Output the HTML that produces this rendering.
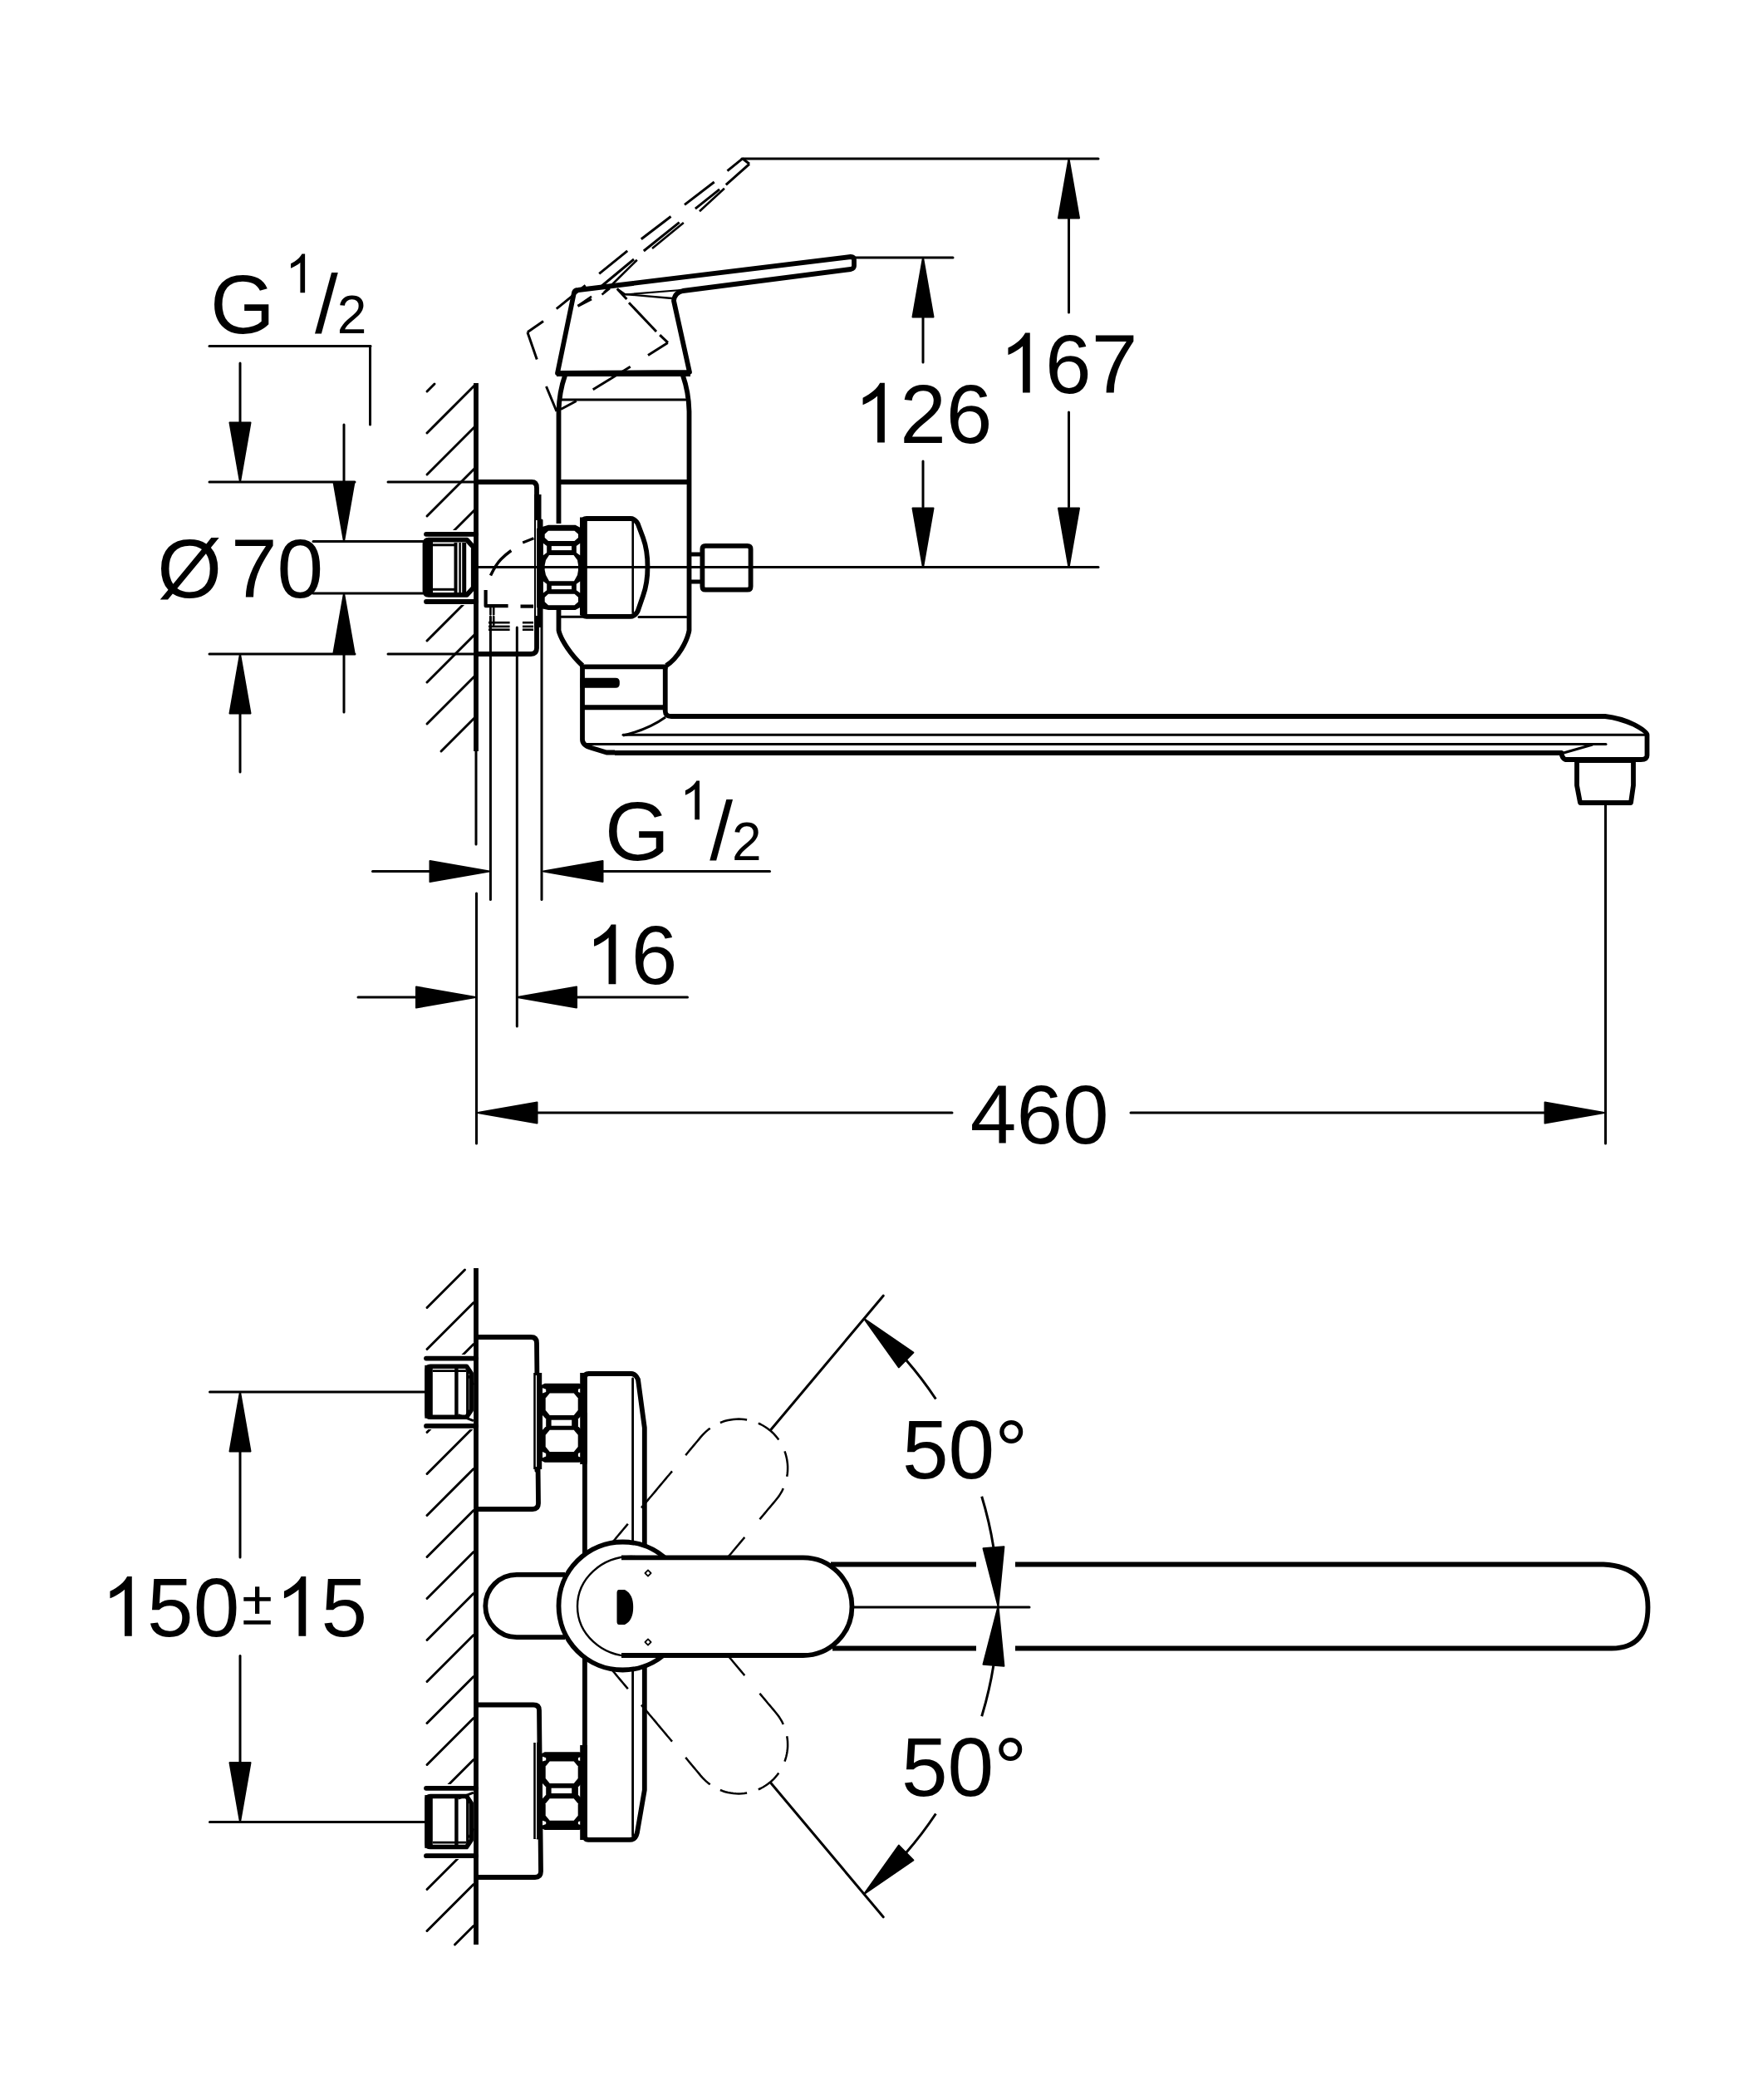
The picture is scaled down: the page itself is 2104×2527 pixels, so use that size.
<!DOCTYPE html>
<html><head><meta charset="utf-8"><style>
html,body{margin:0;padding:0;background:#fff;width:2104px;height:2527px;overflow:hidden}
svg{display:block}
text{font-family:"Liberation Sans",sans-serif;fill:#000;stroke:none}
</style></head><body>
<svg width="2104" height="2527" viewBox="0 0 2104 2527" fill="none" stroke="#000" stroke-linecap="butt" stroke-linejoin="round">
<g id="top">
<line x1="514.0" y1="471.0" x2="523.0" y2="462.0" stroke-width="3.0" stroke-linecap="round" />
<line x1="514.0" y1="521.0" x2="572.0" y2="463.0" stroke-width="3.0" stroke-linecap="round" />
<line x1="514.0" y1="571.0" x2="572.0" y2="513.0" stroke-width="3.0" stroke-linecap="round" />
<line x1="514.0" y1="621.0" x2="572.0" y2="563.0" stroke-width="3.0" stroke-linecap="round" />
<line x1="514.0" y1="671.0" x2="572.0" y2="613.0" stroke-width="3.0" stroke-linecap="round" />
<line x1="514.0" y1="721.0" x2="572.0" y2="663.0" stroke-width="3.0" stroke-linecap="round" />
<line x1="514.0" y1="771.0" x2="572.0" y2="713.0" stroke-width="3.0" stroke-linecap="round" />
<line x1="514.0" y1="821.0" x2="572.0" y2="763.0" stroke-width="3.0" stroke-linecap="round" />
<line x1="514.0" y1="871.0" x2="572.0" y2="813.0" stroke-width="3.0" stroke-linecap="round" />
<line x1="531.0" y1="904.0" x2="572.0" y2="863.0" stroke-width="3.0" stroke-linecap="round" />
<rect x="505" y="638" width="66" height="90" fill="#fff" stroke="none"/>
<line x1="573" y1="461" x2="573" y2="904" stroke-width="5.8"  />
<line x1="573" y1="904" x2="573" y2="1016" stroke-width="3.0" stroke-linecap="round" />
<line x1="573.5" y1="1075" x2="573.5" y2="1376" stroke-width="3.0" stroke-linecap="round" />
<path d="M573,580 H640 Q646,580 646,587 V780 Q646,787 639,787 H573" stroke-width="5.8" fill="none" />
<rect x="643" y="595" width="8.5" height="160" fill="#000" stroke="none"/>
<rect x="645" y="626" width="1.6" height="115" fill="#fff" stroke="none"/>
<line x1="652" y1="626" x2="652" y2="1082.5" stroke-width="3.0" stroke-linecap="round" />
<line x1="590.4" y1="742" x2="590.4" y2="1082.5" stroke-width="3.0" stroke-linecap="round" />
<line x1="622.3" y1="755" x2="622.3" y2="1235" stroke-width="3.0" stroke-linecap="round" />
<path d="M590.5,692.5 Q597,679 603,673 Q609,667 615.3,662.5" stroke-width="3.5" fill="none" stroke-linecap="butt"/>
<line x1="629.2" y1="652.9" x2="642.4" y2="647.8" stroke-width="3.2"  stroke-linecap="butt"/>
<path d="M584.6,710 V729.2 H611.6" stroke-width="4.2" fill="none" stroke-linecap="butt"/>
<line x1="626.5" y1="729.6" x2="642" y2="729.6" stroke-width="4.2"  stroke-linecap="butt"/>
<line x1="588" y1="749.2" x2="613.6" y2="749.2" stroke-width="2.6"  stroke-linecap="butt"/>
<line x1="628.9" y1="749.2" x2="642" y2="749.2" stroke-width="2.6"  stroke-linecap="butt"/>
<line x1="588" y1="753.9" x2="613.6" y2="753.9" stroke-width="2.6"  stroke-linecap="butt"/>
<line x1="628.9" y1="753.9" x2="642" y2="753.9" stroke-width="2.6"  stroke-linecap="butt"/>
<line x1="588" y1="757.7" x2="613.6" y2="757.7" stroke-width="2.6"  stroke-linecap="butt"/>
<line x1="628.9" y1="757.7" x2="642" y2="757.7" stroke-width="2.6"  stroke-linecap="butt"/>
<line x1="594.2" y1="742" x2="594.2" y2="752" stroke-width="2.6" stroke-linecap="round" />
<line x1="590.4" y1="731.6" x2="590.4" y2="739.2" stroke-width="2.6" stroke-linecap="round" />
<line x1="594.2" y1="731.6" x2="594.2" y2="739.2" stroke-width="2.6" stroke-linecap="round" />
<path d="M516,649.7 H562 L570,658.5 V707 L562,715.8 H516 Q511.5,715.8 511.5,711 V654.5 Q511.5,649.7 516,649.7 Z" stroke-width="5.8" fill="none" />
<rect x="511.5" y="652" width="9.5" height="61.5" fill="#000" stroke="none"/>
<line x1="521" y1="655.8" x2="547" y2="655.8" stroke-width="3"  stroke-linecap="butt"/>
<line x1="521" y1="709.3" x2="547" y2="709.3" stroke-width="3"  stroke-linecap="butt"/>
<line x1="548.5" y1="653" x2="548.5" y2="713" stroke-width="4"  stroke-linecap="butt"/>
<line x1="553.6" y1="653" x2="553.6" y2="713" stroke-width="2.5"  stroke-linecap="butt"/>
<line x1="558.7" y1="653" x2="558.7" y2="713" stroke-width="5"  stroke-linecap="butt"/>
<line x1="568" y1="660" x2="568" y2="706" stroke-width="2.2"  stroke-linecap="butt"/>
<line x1="513" y1="642.8" x2="573" y2="642.8" stroke-width="5.8"  stroke-linecap="round"/>
<line x1="513" y1="724" x2="573" y2="724" stroke-width="5.8"  stroke-linecap="round"/>
<line x1="573" y1="682.5" x2="1322" y2="682.5" stroke-width="3.0" stroke-linecap="round" />
<line x1="377" y1="651.5" x2="512" y2="651.5" stroke-width="3.0" stroke-linecap="round" />
<line x1="377" y1="714" x2="512" y2="714" stroke-width="3.0" stroke-linecap="round" />
<path d="M680,452 Q673,472 672.5,495 V630" stroke-width="5.8" fill="none" />
<path d="M672.5,734 V758.6 C675,770 688,789 701.2,801" stroke-width="5.8" fill="none" />
<path d="M822,452 Q829,472 829.5,495 V758.6 C827,772 816,792 801.9,801" stroke-width="5.8" fill="none" />
<line x1="676" y1="481" x2="825" y2="481" stroke-width="3.0" stroke-linecap="round" />
<line x1="672.5" y1="580" x2="829.5" y2="580" stroke-width="5.8"  />
<line x1="699" y1="802.4" x2="803.5" y2="802.4" stroke-width="5.8"  stroke-linecap="butt"/>
<line x1="769" y1="742.5" x2="826" y2="742.5" stroke-width="3.0" stroke-linecap="round" />
<path d="M671,449 L691,352 Q692,349 696,349 L1024,309 Q1028,309 1028,313 V320 Q1028,323 1024,324 L822,350 Q812,352 811,362 L830,448 Z" stroke-width="5.8" fill="none" />
<line x1="670" y1="450" x2="831" y2="450" stroke-width="5.8"  />
<path d="M742.8,347.5 L752,354 L809,359" stroke-width="2.4" fill="none" />
<path d="M752,354.5 L820,349" stroke-width="2.2" fill="none" />
<path d="M706,624 H759 Q764,624 767.6,630 L774,647 Q779.5,662 779.5,682 Q779.5,702 774,717 L767.6,735.5 Q764,741.8 759,741.8 H706 Q701.5,741.8 701.5,736 V629.5 Q701.5,624 706,624 Z" stroke-width="5.8" fill="none" />
<line x1="761.7" y1="628" x2="761.7" y2="737" stroke-width="2.6" stroke-linecap="round" />
<path d="M646,636 L660,631.7 H692.6 L698.2,634.8 V731 L692.6,734 H660 L646,731 Z" stroke-width="0" fill="#000" stroke="none"/>
<rect x="698" y="622.5" width="8.8" height="118" fill="#000" stroke="none"/>
<path d="M660,638.8 H691.5 L696,642.8 V646.9 L691.5,650.9 H660 L655.7,646.9 V642.8 Z" stroke-width="0" fill="#fff" stroke="none"/>
<path d="M660,714.7 H691.5 L696,718.7 V724.3 L691.5,728.3 H660 L655.7,724.3 V718.7 Z" stroke-width="0" fill="#fff" stroke="none"/>
<path d="M661,668 H690.5 L695,674 L696,680 V686 L695,692 L691,699.2 H661 L657,692 L655.7,686 V680 L657,674 Z" stroke-width="0" fill="#fff" stroke="none"/>
<rect x="663.8" y="657.1" width="24.2" height="5" fill="#fff" stroke="none"/>
<rect x="663.8" y="704.8" width="24.2" height="4.3" fill="#fff" stroke="none"/>
<path d="M653.9,653.7 L658.2,657.0 V664.9000000000001 L653.9,668.2 Z" stroke-width="0" fill="#fff" stroke="none"/>
<path d="M698.2,653.7 L693.8,657.0 V664.9000000000001 L698.2,668.2 Z" stroke-width="0" fill="#fff" stroke="none"/>
<path d="M653.9,699.5 L658.2,702.8 V710.2 L653.9,713.5 Z" stroke-width="0" fill="#fff" stroke="none"/>
<path d="M698.2,699.5 L693.8,702.8 V710.2 L698.2,713.5 Z" stroke-width="0" fill="#fff" stroke="none"/>
<line x1="675.7" y1="742.2" x2="701" y2="742.2" stroke-width="3.0" stroke-linecap="round" />
<line x1="646" y1="682.5" x2="706" y2="682.5" stroke-width="3.0" stroke-linecap="round" />
<line x1="829" y1="667" x2="843" y2="667" stroke-width="5"  stroke-linecap="butt"/>
<line x1="829" y1="700" x2="843" y2="700" stroke-width="5"  stroke-linecap="butt"/>
<path d="M849,656.8 H899.6 Q903.6,656.8 903.6,660.8 V705.7 Q903.6,709.7 899.6,709.7 H849 Q845.4,709.7 845.4,705.7 V660.8 Q845.4,656.8 849,656.8 Z" stroke-width="5.8" fill="none" />
<path d="M701,800 V890 Q701,897 712,900 L730,905.5 H740" stroke-width="5.8" fill="none" />
<path d="M800.75,800 V856 Q801,862 808,862 H1932 Q1950,864 1967,872 Q1982,880 1982.5,884 V909 Q1982.5,914 1975,914 H1884 Q1880,912 1879.5,906 H740" stroke-width="5.8" fill="none" />
<line x1="701" y1="851.25" x2="800.75" y2="851.25" stroke-width="5.8"  />
<path d="M698.5,815.8 H741 Q745.8,815.8 745.8,820.5 V823 Q745.8,827.8 741,827.8 H698.5 Z" stroke-width="0" fill="#000" stroke="none"/>
<path d="M750,885 Q780,878 801,863" stroke-width="3.0" fill="none" />
<line x1="750" y1="884.3" x2="1979.5" y2="884.3" stroke-width="3.0" stroke-linecap="round" />
<line x1="705" y1="895.5" x2="1933" y2="895.5" stroke-width="3.0" stroke-linecap="round" />
<path d="M1917,896 L1882,906" stroke-width="3.0" fill="none" />
<path d="M1898,915 V945 L1902,966 H1963 L1966,945 V915" stroke-width="5.8" fill="none" />
<line x1="1898" y1="915" x2="1966" y2="915" stroke-width="5.8"  />
<line x1="1932.5" y1="969" x2="1932.5" y2="1376" stroke-width="3.0" stroke-linecap="round" />
<line x1="893" y1="191" x2="1322" y2="191" stroke-width="3.0" stroke-linecap="round" />
<polygon points="1286.5,191.0 1299.0,262.5 1274.0,262.5" fill="#000" stroke="#000" stroke-width="2"/>
<line x1="1286.5" y1="262" x2="1286.5" y2="376" stroke-width="3.0" stroke-linecap="round" />
<line x1="1286.5" y1="496" x2="1286.5" y2="610" stroke-width="3.0" stroke-linecap="round" />
<polygon points="1286.5,683.0 1274.0,611.5 1299.0,611.5" fill="#000" stroke="#000" stroke-width="2"/>
<line x1="1026" y1="310" x2="1147" y2="310" stroke-width="3.0" stroke-linecap="round" />
<polygon points="1111.0,310.0 1123.5,381.5 1098.5,381.5" fill="#000" stroke="#000" stroke-width="2"/>
<line x1="1111" y1="381" x2="1111" y2="436" stroke-width="3.0" stroke-linecap="round" />
<line x1="1111" y1="555" x2="1111" y2="610" stroke-width="3.0" stroke-linecap="round" />
<polygon points="1111.0,683.0 1098.5,611.5 1123.5,611.5" fill="#000" stroke="#000" stroke-width="2"/>
<path d="M1239.76,472.50 L1230.97,472.50 L1230.97,416.49 C1228.87,418.50 1226.08,420.50 1222.67,422.50 C1219.25,424.50 1216.17,426.02 1213.44,427.04 L1213.44,418.54 C1218.37,416.25 1222.67,413.42 1226.33,410.20 C1229.99,406.97 1232.58,403.75 1234.09,400.62 L1239.76,400.62 Z" fill="#000" stroke="none"/>
<text x="1258.1" y="472.5" font-size="100" text-anchor="start" >67</text>
<path d="M1064.86,532.60 L1056.07,532.60 L1056.07,476.59 C1053.97,478.60 1051.18,480.60 1047.77,482.60 C1044.35,484.60 1041.27,486.12 1038.54,487.14 L1038.54,478.64 C1043.47,476.35 1047.77,473.52 1051.43,470.30 C1055.09,467.07 1057.68,463.85 1059.19,460.73 L1064.86,460.73 Z" fill="#000" stroke="none"/>
<text x="1083.2" y="532.6" font-size="100" text-anchor="start" >26</text>
<line x1="252" y1="416.6" x2="446" y2="416.6" stroke-width="3.0" stroke-linecap="round" />
<line x1="445.5" y1="416.6" x2="445.5" y2="511" stroke-width="3.0" stroke-linecap="round" />
<line x1="252" y1="580" x2="427" y2="580" stroke-width="3.0" stroke-linecap="round" />
<line x1="467" y1="580" x2="572" y2="580" stroke-width="3.0" stroke-linecap="round" />
<line x1="252" y1="787" x2="427" y2="787" stroke-width="3.0" stroke-linecap="round" />
<line x1="467" y1="787" x2="572" y2="787" stroke-width="3.0" stroke-linecap="round" />
<line x1="289" y1="437" x2="289" y2="510" stroke-width="3.0" stroke-linecap="round" />
<polygon points="289.0,580.0 276.5,508.5 301.5,508.5" fill="#000" stroke="#000" stroke-width="2"/>
<polygon points="289.0,787.0 301.5,858.5 276.5,858.5" fill="#000" stroke="#000" stroke-width="2"/>
<line x1="289" y1="857" x2="289" y2="929" stroke-width="3.0" stroke-linecap="round" />
<line x1="414" y1="511" x2="414" y2="580" stroke-width="3.0" stroke-linecap="round" />
<polygon points="414.0,651.5 401.5,580.0 426.5,580.0" fill="#000" stroke="#000" stroke-width="2"/>
<polygon points="414.0,714.0 426.5,785.5 401.5,785.5" fill="#000" stroke="#000" stroke-width="2"/>
<line x1="414" y1="787" x2="414" y2="857" stroke-width="3.0" stroke-linecap="round" />
<line x1="448.5" y1="1048.5" x2="519" y2="1048.5" stroke-width="3.0" stroke-linecap="round" />
<polygon points="589.0,1048.5 517.5,1061.0 517.5,1036.0" fill="#000" stroke="#000" stroke-width="2"/>
<polygon points="654.0,1048.5 725.5,1036.0 725.5,1061.0" fill="#000" stroke="#000" stroke-width="2"/>
<line x1="724" y1="1048.5" x2="926.5" y2="1048.5" stroke-width="3.0" stroke-linecap="round" />
<line x1="431" y1="1200" x2="503" y2="1200" stroke-width="3.0" stroke-linecap="round" />
<polygon points="572.5,1200.0 501.0,1212.5 501.0,1187.5" fill="#000" stroke="#000" stroke-width="2"/>
<polygon points="622.5,1200.0 694.0,1187.5 694.0,1212.5" fill="#000" stroke="#000" stroke-width="2"/>
<line x1="694" y1="1200" x2="827.5" y2="1200" stroke-width="3.0" stroke-linecap="round" />
<polygon points="575.0,1339.0 646.5,1326.5 646.5,1351.5" fill="#000" stroke="#000" stroke-width="2"/>
<line x1="645" y1="1339" x2="1146" y2="1339" stroke-width="3.0" stroke-linecap="round" />
<line x1="1361" y1="1339" x2="1861" y2="1339" stroke-width="3.0" stroke-linecap="round" />
<polygon points="1931.0,1339.0 1859.5,1351.5 1859.5,1326.5" fill="#000" stroke="#000" stroke-width="2"/>
<text x="252.9" y="400.5" font-size="100" text-anchor="start" >G</text>
<path d="M367.12,352.30 L361.40,352.30 L361.40,315.90 C360.04,317.20 358.23,318.50 356.01,319.80 C353.79,321.10 351.79,322.09 350.01,322.75 L350.01,317.23 C353.21,315.74 356.01,313.90 358.39,311.80 C360.77,309.71 362.45,307.61 363.43,305.58 L367.12,305.58 Z" fill="#000" stroke="none"/>
<text x="379" y="400.5" font-size="100" text-anchor="start" >/</text>
<text x="405.8" y="400.5" font-size="64" text-anchor="start" >2</text>
<text x="728" y="1034.5" font-size="100" text-anchor="start" >G</text>
<path d="M842.02,986.20 L836.30,986.20 L836.30,949.80 C834.94,951.10 833.13,952.40 830.91,953.70 C828.69,955.00 826.69,955.99 824.91,956.65 L824.91,951.13 C828.11,949.64 830.91,947.80 833.29,945.70 C835.67,943.61 837.35,941.51 838.33,939.48 L842.02,939.48 Z" fill="#000" stroke="none"/>
<text x="854.3" y="1034.5" font-size="100" text-anchor="start" >/</text>
<text x="881" y="1034.5" font-size="64" text-anchor="start" >2</text>
<text x="189.2" y="719" font-size="100" text-anchor="start" >Ø</text>
<text x="277.9" y="719.2" font-size="100" text-anchor="start" >70</text>
<path d="M741.36,1184.30 L732.57,1184.30 L732.57,1128.29 C730.47,1130.30 727.68,1132.30 724.27,1134.30 C720.85,1136.30 717.77,1137.82 715.04,1138.84 L715.04,1130.34 C719.97,1128.05 724.27,1125.22 727.93,1122.00 C731.59,1118.77 734.18,1115.55 735.69,1112.42 L741.36,1112.42 Z" fill="#000" stroke="none"/>
<text x="759.7" y="1184.3" font-size="100" text-anchor="start" >6</text>
<text x="1167.8" y="1375.5" font-size="100" text-anchor="start" >460</text>
</g>
<g id="bottom">
<line x1="514.0" y1="1573.5" x2="559.5" y2="1528.0" stroke-width="3.0" stroke-linecap="round" />
<line x1="514.0" y1="1623.5" x2="570.0" y2="1567.5" stroke-width="3.0" stroke-linecap="round" />
<line x1="514.0" y1="1673.5" x2="570.0" y2="1617.5" stroke-width="3.0" stroke-linecap="round" />
<line x1="514.0" y1="1723.5" x2="570.0" y2="1667.5" stroke-width="3.0" stroke-linecap="round" />
<line x1="514.0" y1="1773.5" x2="570.0" y2="1717.5" stroke-width="3.0" stroke-linecap="round" />
<line x1="514.0" y1="1823.5" x2="570.0" y2="1767.5" stroke-width="3.0" stroke-linecap="round" />
<line x1="514.0" y1="1873.5" x2="570.0" y2="1817.5" stroke-width="3.0" stroke-linecap="round" />
<line x1="514.0" y1="1923.5" x2="570.0" y2="1867.5" stroke-width="3.0" stroke-linecap="round" />
<line x1="514.0" y1="1973.5" x2="570.0" y2="1917.5" stroke-width="3.0" stroke-linecap="round" />
<line x1="514.0" y1="2023.5" x2="570.0" y2="1967.5" stroke-width="3.0" stroke-linecap="round" />
<line x1="514.0" y1="2073.5" x2="570.0" y2="2017.5" stroke-width="3.0" stroke-linecap="round" />
<line x1="514.0" y1="2123.5" x2="570.0" y2="2067.5" stroke-width="3.0" stroke-linecap="round" />
<line x1="514.0" y1="2173.5" x2="570.0" y2="2117.5" stroke-width="3.0" stroke-linecap="round" />
<line x1="514.0" y1="2223.5" x2="570.0" y2="2167.5" stroke-width="3.0" stroke-linecap="round" />
<line x1="514.0" y1="2273.5" x2="570.0" y2="2217.5" stroke-width="3.0" stroke-linecap="round" />
<line x1="514.0" y1="2323.5" x2="570.0" y2="2267.5" stroke-width="3.0" stroke-linecap="round" />
<line x1="547.5" y1="2340.0" x2="570.0" y2="2317.5" stroke-width="3.0" stroke-linecap="round" />
<rect x="505" y="1630" width="66" height="90" fill="#fff" stroke="none"/>
<rect x="505" y="2147" width="66" height="90" fill="#fff" stroke="none"/>
<line x1="573" y1="1526" x2="573" y2="2340" stroke-width="5.8"  />
<path d="M573,1609 H639 Q646,1609 646,1616 L648,1809 Q648,1816 641,1816 H573" stroke-width="5.8" fill="none" />
<line x1="645" y1="1655" x2="645" y2="1770" stroke-width="3.0" stroke-linecap="round" />
<path d="M573,2051.5 H642 Q649,2051.5 649,2058 L651,2252 Q651,2259 644,2259 H573" stroke-width="5.8" fill="none" />
<line x1="647" y1="2098" x2="647" y2="2212" stroke-width="3.0" stroke-linecap="round" />
<path d="M518,1644.1499999999999 H561.5 L567.2,1652.4499999999998 V1697.0500000000002 L561.5,1705.3500000000001 H518 Q514,1705.3500000000001 514,1701.15 V1648.35 Q514,1644.1499999999999 518,1644.1499999999999 Z" stroke-width="5.5" fill="none" />
<rect x="511.3" y="1642.85" width="9.5" height="63.80000000000018" fill="#000" stroke="none"/>
<line x1="520.8" y1="1649.6499999999999" x2="561" y2="1649.6499999999999" stroke-width="2.6"  stroke-linecap="butt"/>
<line x1="551.6" y1="1702.65" x2="569.9" y2="1709.65" stroke-width="3"  stroke-linecap="butt"/>
<line x1="564.2" y1="1655.35" x2="569.9" y2="1666.35" stroke-width="2.5"  stroke-linecap="butt"/>
<line x1="549.4" y1="1646.35" x2="549.4" y2="1703.15" stroke-width="4.4"  stroke-linecap="butt"/>
<line x1="562.6" y1="1646.35" x2="562.6" y2="1705.15" stroke-width="3"  stroke-linecap="butt"/>
<line x1="513" y1="1634.55" x2="573" y2="1634.55" stroke-width="5.8"  stroke-linecap="round"/>
<line x1="513" y1="1715.95" x2="573" y2="1715.95" stroke-width="5.8"  stroke-linecap="round"/>
<path d="M518,2161.4 H561.5 L567.2,2169.7000000000003 V2214.2999999999997 L561.5,2222.6 H518 Q514,2222.6 514,2218.4 V2165.6 Q514,2161.4 518,2161.4 Z" stroke-width="5.5" fill="none" />
<rect x="511.3" y="2160.1" width="9.5" height="63.80000000000018" fill="#000" stroke="none"/>
<line x1="520.8" y1="2217.1" x2="561" y2="2217.1" stroke-width="2.6"  stroke-linecap="butt"/>
<line x1="551.6" y1="2164.1" x2="569.9" y2="2157.1" stroke-width="3"  stroke-linecap="butt"/>
<line x1="564.2" y1="2211.4" x2="569.9" y2="2200.4" stroke-width="2.5"  stroke-linecap="butt"/>
<line x1="549.4" y1="2163.6" x2="549.4" y2="2220.4" stroke-width="4.4"  stroke-linecap="butt"/>
<line x1="562.6" y1="2163.6" x2="562.6" y2="2222.4" stroke-width="3"  stroke-linecap="butt"/>
<line x1="513" y1="2151.8" x2="573" y2="2151.8" stroke-width="5.8"  stroke-linecap="round"/>
<line x1="513" y1="2233.2" x2="573" y2="2233.2" stroke-width="5.8"  stroke-linecap="round"/>
<line x1="252.5" y1="1675" x2="511" y2="1675" stroke-width="3.0" stroke-linecap="round" />
<line x1="252.5" y1="2192.5" x2="512" y2="2192.5" stroke-width="3.0" stroke-linecap="round" />
<rect x="642.2" y="1652" width="10" height="116" fill="#000" stroke="none"/>
<rect x="644.8" y="1655" width="1.3" height="110" fill="#fff" stroke="none"/>
<rect x="642.2" y="2097" width="9.6" height="116" fill="#000" stroke="none"/>
<rect x="644.8" y="2097" width="1.3" height="115.7" fill="#fff" stroke="none"/>
<path d="M651.7,1666.7 L655.7,1664.7 H697.4 L701.4,1666.7 V1757.7 L697.4,1759.7 H655.7 L651.7,1757.7 Z" stroke-width="0" fill="#000" stroke="none"/>
<path d="M661.7,1676.6 H690.7 L695.7,1682.6 V1697.1 L690.7,1703.1 H661.7 L656.7,1697.1 V1682.6 Z" stroke-width="0" fill="#fff" stroke="none"/>
<path d="M661.7,1720.7 H690.7 L695.7,1726.7 V1741.1 L690.7,1747.1 H661.7 L656.7,1741.1 V1726.7 Z" stroke-width="0" fill="#fff" stroke="none"/>
<rect x="663.6" y="1708.7" width="24.6" height="7.0" fill="#fff" stroke="none"/>
<path d="M653.0,1670.2 L657.2,1671.8 V1675.0 L653.0,1676.6 Z" stroke-width="0" fill="#fff" stroke="none"/>
<path d="M700.1,1670.2 L695.9,1671.8 V1675.0 L700.1,1676.6 Z" stroke-width="0" fill="#fff" stroke="none"/>
<path d="M653.0,1703.1 L657.2,1707.5 V1716.3 L653.0,1720.7 Z" stroke-width="0" fill="#fff" stroke="none"/>
<path d="M700.1,1703.1 L695.9,1707.5 V1716.3 L700.1,1720.7 Z" stroke-width="0" fill="#fff" stroke="none"/>
<path d="M653.0,1747.1 L657.2,1748.875 V1752.425 L653.0,1754.2 Z" stroke-width="0" fill="#fff" stroke="none"/>
<path d="M700.1,1747.1 L695.9,1748.875 V1752.425 L700.1,1754.2 Z" stroke-width="0" fill="#fff" stroke="none"/>
<path d="M651.7,2110.3 L655.7,2108.3 H697.4 L701.4,2110.3 V2200 L697.4,2202 H655.7 L651.7,2200 Z" stroke-width="0" fill="#000" stroke="none"/>
<path d="M661.7,2119.6 H690.7 L695.7,2125.6 V2140 L690.7,2146 H661.7 L656.7,2140 V2125.6 Z" stroke-width="0" fill="#fff" stroke="none"/>
<path d="M661.7,2164.3 H690.7 L695.7,2170.3 V2184.7 L690.7,2190.7 H661.7 L656.7,2184.7 V2170.3 Z" stroke-width="0" fill="#fff" stroke="none"/>
<rect x="663.6" y="2151.7" width="24.6" height="6.300000000000182" fill="#fff" stroke="none"/>
<path d="M653.0,2113.8 L657.2,2115.25 V2118.15 L653.0,2119.6 Z" stroke-width="0" fill="#fff" stroke="none"/>
<path d="M700.1,2113.8 L695.9,2115.25 V2118.15 L700.1,2119.6 Z" stroke-width="0" fill="#fff" stroke="none"/>
<path d="M653.0,2146 L657.2,2150.575 V2159.7250000000004 L653.0,2164.3 Z" stroke-width="0" fill="#fff" stroke="none"/>
<path d="M700.1,2146 L695.9,2150.575 V2159.7250000000004 L700.1,2164.3 Z" stroke-width="0" fill="#fff" stroke="none"/>
<path d="M653.0,2190.7 L657.2,2192.1499999999996 V2195.05 L653.0,2196.5 Z" stroke-width="0" fill="#fff" stroke="none"/>
<path d="M700.1,2190.7 L695.9,2192.1499999999996 V2195.05 L700.1,2196.5 Z" stroke-width="0" fill="#fff" stroke="none"/>
<rect x="698.2" y="1652" width="8.2" height="110" fill="#000" stroke="none"/>
<rect x="698.2" y="2100" width="8.2" height="114" fill="#000" stroke="none"/>
<path d="M703.9,1760 V1657.5 Q703.9,1653 708.5,1653 H760 Q765,1653 768,1660 L775.8,1718 V2154 L767,2205 Q765,2213.9 758,2213.9 H708 Q703.9,2213.9 703.9,2209 V2100" stroke-width="5.8" fill="none" />
<line x1="703.9" y1="1700" x2="703.9" y2="2214" stroke-width="5.8"  stroke-linecap="butt"/>
<line x1="761.6" y1="1659" x2="761.6" y2="2209" stroke-width="2.8" stroke-linecap="round" />
</g>
<polyline points="720.4,1875.9 722.3,1873.6 724.3,1871.2 726.3,1868.9 728.2,1866.5 730.2,1864.2 732.2,1861.9 734.1,1859.5 736.1,1857.2 738.1,1854.8 740.1,1852.5 742.0,1850.1 744.0,1847.8 746.0,1845.4 747.9,1843.1 749.9,1840.8 751.9,1838.4 753.8,1836.1 755.8,1833.7" stroke-width="2.5" fill="none"/>
<polyline points="772.0,1814.4 773.9,1812.1 775.9,1809.8 777.8,1807.5 779.8,1805.1 781.7,1802.8 783.7,1800.5 785.6,1798.2 787.6,1795.9 789.5,1793.6 791.4,1791.2 793.4,1788.9 795.3,1786.6 797.3,1784.3 799.2,1782.0 801.2,1779.6 803.1,1777.3 805.1,1775.0 807.0,1772.7 809.0,1770.4" stroke-width="2.5" fill="none"/>
<polyline points="825.2,1751.1 827.2,1748.7 829.2,1746.3 831.2,1743.9 833.2,1741.5 835.2,1739.1 837.2,1736.7 839.3,1734.3 841.3,1731.9 843.3,1729.4 845.3,1727.1 847.5,1724.8 849.8,1722.7 852.2,1720.6 854.7,1718.7" stroke-width="2.5" fill="none"/>
<polyline points="866.9,1712.0 870.0,1710.8 873.1,1709.8 876.3,1709.0 879.5,1708.4 882.7,1708.0 886.0,1707.7 889.3,1707.6 892.6,1707.7 895.8,1708.0 899.1,1708.5" stroke-width="2.5" fill="none"/>
<polyline points="912.8,1712.6 915.7,1714.0 918.5,1715.5 921.3,1717.2 923.9,1719.0 926.4,1720.9 928.9,1723.0 931.2,1725.2 933.4,1727.6 935.4,1730.0 937.3,1732.6" stroke-width="2.5" fill="none"/>
<polyline points="944.5,1746.4 945.5,1749.3 946.3,1752.3 947.0,1755.3 947.5,1758.3 947.9,1761.4 948.1,1764.4 948.1,1767.5 948.0,1770.6 947.7,1773.7 947.2,1776.7" stroke-width="2.5" fill="none"/>
<polyline points="942.8,1791.0 941.5,1793.8 939.9,1796.6 938.3,1799.2 936.5,1801.8 934.5,1804.3 932.5,1806.7 930.5,1809.1 928.5,1811.5 926.5,1813.9 924.4,1816.3 922.4,1818.7 920.4,1821.1 918.4,1823.5 916.4,1825.9 914.4,1828.3" stroke-width="2.5" fill="none"/>
<polyline points="896.3,1849.9 894.3,1852.2 892.3,1854.6 890.4,1856.9 888.4,1859.3 886.4,1861.6 884.4,1864.0 882.5,1866.3 880.5,1868.7 878.5,1871.0 876.5,1873.4 874.6,1875.7 872.6,1878.1 870.6,1880.4 868.6,1882.8 866.7,1885.2 864.7,1887.5 862.7,1889.9 860.7,1892.2" stroke-width="2.5" fill="none"/>
<polyline points="845.3,1910.6 843.4,1912.9 841.5,1915.2 839.5,1917.5 837.6,1919.8 835.7,1922.1 833.7,1924.4 831.8,1926.7 829.9,1929.0 828.0,1931.3 826.0,1933.6 824.1,1935.9 822.2,1938.2 820.2,1940.5 818.3,1942.8 816.4,1945.1 814.5,1947.4 812.5,1949.7 810.6,1952.0 808.7,1954.3" stroke-width="2.5" fill="none"/>
<line x1="927.6" y1="1720.8" x2="1063.2" y2="1559.2" stroke-width="3.0" stroke-linecap="round" />
<polyline points="720.4,1990.1 722.3,1992.4 724.3,1994.8 726.3,1997.1 728.2,1999.5 730.2,2001.8 732.2,2004.1 734.1,2006.5 736.1,2008.8 738.1,2011.2 740.1,2013.5 742.0,2015.9 744.0,2018.2 746.0,2020.6 747.9,2022.9 749.9,2025.2 751.9,2027.6 753.8,2029.9 755.8,2032.3" stroke-width="2.5" fill="none"/>
<polyline points="772.0,2051.6 773.9,2053.9 775.9,2056.2 777.8,2058.5 779.8,2060.9 781.7,2063.2 783.7,2065.5 785.6,2067.8 787.6,2070.1 789.5,2072.4 791.4,2074.8 793.4,2077.1 795.3,2079.4 797.3,2081.7 799.2,2084.0 801.2,2086.4 803.1,2088.7 805.1,2091.0 807.0,2093.3 809.0,2095.6" stroke-width="2.5" fill="none"/>
<polyline points="825.2,2114.9 827.2,2117.3 829.2,2119.7 831.2,2122.1 833.2,2124.5 835.2,2126.9 837.2,2129.3 839.3,2131.7 841.3,2134.1 843.3,2136.6 845.3,2138.9 847.5,2141.2 849.8,2143.3 852.2,2145.4 854.7,2147.3" stroke-width="2.5" fill="none"/>
<polyline points="866.9,2154.0 870.0,2155.2 873.1,2156.2 876.3,2157.0 879.5,2157.6 882.7,2158.0 886.0,2158.3 889.3,2158.4 892.6,2158.3 895.8,2158.0 899.1,2157.5" stroke-width="2.5" fill="none"/>
<polyline points="912.8,2153.4 915.7,2152.0 918.5,2150.5 921.3,2148.8 923.9,2147.0 926.4,2145.1 928.9,2143.0 931.2,2140.8 933.4,2138.4 935.4,2136.0 937.3,2133.4" stroke-width="2.5" fill="none"/>
<polyline points="944.5,2119.6 945.5,2116.7 946.3,2113.7 947.0,2110.7 947.5,2107.7 947.9,2104.6 948.1,2101.6 948.1,2098.5 948.0,2095.4 947.7,2092.3 947.2,2089.3" stroke-width="2.5" fill="none"/>
<polyline points="942.8,2075.0 941.5,2072.2 939.9,2069.4 938.3,2066.8 936.5,2064.2 934.5,2061.7 932.5,2059.3 930.5,2056.9 928.5,2054.5 926.5,2052.1 924.4,2049.7 922.4,2047.3 920.4,2044.9 918.4,2042.5 916.4,2040.1 914.4,2037.7" stroke-width="2.5" fill="none"/>
<polyline points="896.3,2016.1 894.3,2013.8 892.3,2011.4 890.4,2009.1 888.4,2006.7 886.4,2004.4 884.4,2002.0 882.5,1999.7 880.5,1997.3 878.5,1995.0 876.5,1992.6 874.6,1990.3 872.6,1987.9 870.6,1985.6 868.6,1983.2 866.7,1980.8 864.7,1978.5 862.7,1976.1 860.7,1973.8" stroke-width="2.5" fill="none"/>
<polyline points="845.3,1955.4 843.4,1953.1 841.5,1950.8 839.5,1948.5 837.6,1946.2 835.7,1943.9 833.7,1941.6 831.8,1939.3 829.9,1937.0 828.0,1934.7 826.0,1932.4 824.1,1930.1 822.2,1927.8 820.2,1925.5 818.3,1923.2 816.4,1920.9 814.5,1918.6 812.5,1916.3 810.6,1914.0 808.7,1911.7" stroke-width="2.5" fill="none"/>
<line x1="927.6" y1="2145.2" x2="1063.2" y2="2306.8" stroke-width="3.0" stroke-linecap="round" />
<path d="M1000,1882.5 H1930 Q1983.5,1885 1983.5,1934 Q1983.5,1983.5 1940,1983.5 H1002" stroke-width="5.8" fill="none" />
<rect x="1175" y="1875" width="47" height="115" fill="#fff" stroke="none"/>
<line x1="1027.5" y1="1934" x2="1239" y2="1934" stroke-width="3.0" stroke-linecap="round" />
<path d="M680,1894.8 H621.9 A37.7,37.7 0 0 0 621.9,1970.2 H680" stroke-width="5.8" fill="#fff" />
<circle cx="749.5" cy="1932.5" r="77" stroke-width="5.8" fill="#fff"/>
<ellipse cx="760" cy="1933" rx="65" ry="60" stroke-width="2.4" fill="none"/>
<path d="M748,1874.3 H966.7 A58.85,58.85 0 0 1 966.7,1992 H748" stroke-width="5.8" fill="#fff" />
<rect x="777.5" y="1890.5" width="5" height="5" transform="rotate(45 780 1893)" stroke-width="1.8" fill="none"/>
<rect x="777.5" y="1973.5" width="5" height="5" transform="rotate(45 780 1976)" stroke-width="1.8" fill="none"/>
<path d="M745,1913 H752 Q762.2,1918 762.2,1934 Q762.2,1950 752,1955 H745 Q742.5,1955 742.5,1951 V1917 Q742.5,1913 745,1913 Z" stroke-width="0" fill="#000" />
<polygon points="1040.0,1586.7 1099.4,1627.6 1081.9,1645.4" fill="#000" stroke="#000" stroke-width="2"/>
<path d="M1090.6,1636.5 A452,452 0 0 1 1126.4,1683.5" stroke-width="3.0" fill="none" />
<path d="M1181.7,1800.8 A452,452 0 0 1 1195.9,1862.3" stroke-width="3.0" fill="none" />
<polygon points="1201.5,1933.0 1183.5,1863.2 1208.4,1861.2" fill="#000" stroke="#000" stroke-width="2"/>
<polygon points="1201.5,1933.0 1208.4,2004.8 1183.5,2002.8" fill="#000" stroke="#000" stroke-width="2"/>
<path d="M1195.9,2003.7 A452,452 0 0 1 1181.7,2065.2" stroke-width="3.0" fill="none" />
<path d="M1126.4,2182.5 A452,452 0 0 1 1090.6,2229.5" stroke-width="3.0" fill="none" />
<polygon points="1040.0,2279.3 1081.9,2220.6 1099.4,2238.4" fill="#000" stroke="#000" stroke-width="2"/>
<text x="1086" y="1778.6" font-size="100" text-anchor="start" >50°</text>
<text x="1085" y="2160.6" font-size="100" text-anchor="start" >50°</text>
<polygon points="289.0,1675.0 301.5,1746.5 276.5,1746.5" fill="#000" stroke="#000" stroke-width="2"/>
<line x1="289" y1="1745" x2="289" y2="1874" stroke-width="3.0" stroke-linecap="round" />
<line x1="289" y1="1992.5" x2="289" y2="2123" stroke-width="3.0" stroke-linecap="round" />
<polygon points="289.0,2192.5 276.5,2121.0 301.5,2121.0" fill="#000" stroke="#000" stroke-width="2"/>
<path d="M158.76,1968.80 L149.97,1968.80 L149.97,1912.79 C147.87,1914.80 145.08,1916.80 141.67,1918.80 C138.25,1920.80 135.17,1922.32 132.44,1923.34 L132.44,1914.84 C137.37,1912.55 141.67,1909.72 145.33,1906.50 C148.99,1903.27 151.58,1900.05 153.09,1896.92 L158.76,1896.92 Z" fill="#000" stroke="none"/>
<text x="177.1" y="1968.8" font-size="100" text-anchor="start" >50</text>
<rect x="307" y="1909.3" width="5.3" height="32.6" fill="#000" stroke="none"/>
<rect x="293.3" y="1921.9" width="32.5" height="4.8" fill="#000" stroke="none"/>
<rect x="293.3" y="1949.9" width="32.5" height="4.8" fill="#000" stroke="none"/>
<path d="M368.26,1968.80 L359.47,1968.80 L359.47,1912.79 C357.37,1914.80 354.58,1916.80 351.17,1918.80 C347.75,1920.80 344.67,1922.32 341.94,1923.34 L341.94,1914.84 C346.87,1912.55 351.17,1909.72 354.83,1906.50 C358.49,1903.27 361.08,1900.05 362.59,1896.92 L368.26,1896.92 Z" fill="#000" stroke="none"/>
<text x="386.6" y="1968.8" font-size="100" text-anchor="start" >5</text>
<line x1="875.5" y1="205.7" x2="893.7" y2="190.8" stroke-width="3.0"  stroke-linecap="butt"/>
<line x1="824" y1="246.4" x2="859.7" y2="219" stroke-width="3.0"  stroke-linecap="butt"/>
<line x1="771.8" y1="287.8" x2="807.5" y2="260.5" stroke-width="3.0"  stroke-linecap="butt"/>
<line x1="721.2" y1="329.3" x2="755.2" y2="301.9" stroke-width="3.0"  stroke-linecap="butt"/>
<line x1="669.8" y1="371.6" x2="704.6" y2="343.4" stroke-width="3.0"  stroke-linecap="butt"/>
<line x1="634.9" y1="399.8" x2="654" y2="386.5" stroke-width="3.0"  stroke-linecap="butt"/>
<line x1="893.7" y1="190.8" x2="902" y2="197.2" stroke-width="3.0"  stroke-linecap="butt"/>
<line x1="902" y1="197.4" x2="873.8" y2="222.3" stroke-width="3.0"  stroke-linecap="butt"/>
<line x1="866.1" y1="227.8" x2="836.9" y2="251.2" stroke-width="3.0"  stroke-linecap="butt"/>
<line x1="817.7" y1="267.7" x2="774.8" y2="302" stroke-width="3.0"  stroke-linecap="butt"/>
<line x1="763" y1="312" x2="722" y2="346" stroke-width="3.0"  stroke-linecap="butt"/>
<line x1="712" y1="360" x2="695.5" y2="368.3" stroke-width="3.0"  stroke-linecap="butt"/>
<line x1="871.9" y1="226.8" x2="842" y2="254.3" stroke-width="2.6"  stroke-linecap="butt"/>
<line x1="822.8" y1="268" x2="785" y2="298.9" stroke-width="2.6"  stroke-linecap="butt"/>
<line x1="766.8" y1="312.7" x2="727" y2="352" stroke-width="2.6"  stroke-linecap="butt"/>
<line x1="634.9" y1="399.8" x2="646.25" y2="432.5" stroke-width="3.0"  stroke-linecap="butt"/>
<line x1="657.5" y1="465" x2="670" y2="495" stroke-width="3.0"  stroke-linecap="butt"/>
<line x1="742.8" y1="347.5" x2="754.4" y2="360" stroke-width="3.0"  stroke-linecap="butt"/>
<line x1="757" y1="364.2" x2="790" y2="399" stroke-width="3.0"  stroke-linecap="butt"/>
<line x1="794.2" y1="403.1" x2="804" y2="412.3" stroke-width="3.0"  stroke-linecap="butt"/>
<line x1="803.75" y1="412.5" x2="780" y2="427.5" stroke-width="3.0"  stroke-linecap="butt"/>
<line x1="758.75" y1="441.25" x2="713.75" y2="468.75" stroke-width="3.0"  stroke-linecap="butt"/>
<line x1="693.75" y1="482.5" x2="675" y2="492.5" stroke-width="3.0"  stroke-linecap="butt"/>
<line x1="695.5" y1="368" x2="712" y2="356.7" stroke-width="2.6"  stroke-linecap="butt"/>
<line x1="724.5" y1="354.5" x2="734" y2="347" stroke-width="2.6"  stroke-linecap="butt"/>
</svg></body></html>
